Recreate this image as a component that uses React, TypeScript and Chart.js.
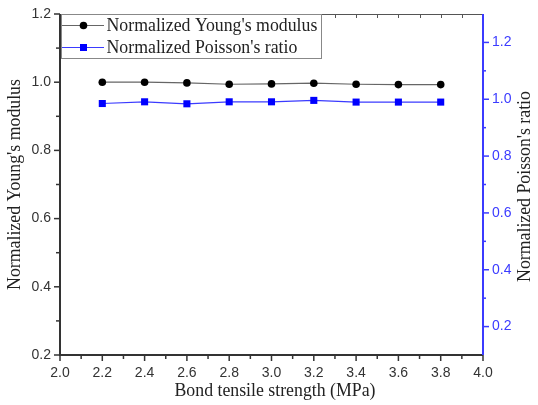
import React, { useEffect, useRef } from "react";
import { Chart, registerables } from "chart.js";
Chart.register(...registerables);

const bondStrength = [2.2, 2.4, 2.6, 2.8, 3.0, 3.2, 3.4, 3.6, 3.8];
const youngsModulus = [1.0, 1.0, 0.998, 0.994, 0.995, 0.997, 0.994, 0.993, 0.993];
const poissonsRatio = [0.985, 0.991, 0.984, 0.991, 0.991, 0.996, 0.99, 0.99, 0.99];
const xTickValues = [2.0, 2.2, 2.4, 2.6, 2.8, 3.0, 3.2, 3.4, 3.6, 3.8, 4.0];
const leftTickValues = [0.2, 0.4, 0.6, 0.8, 1.0, 1.2];
const rightTickValues = [0.2, 0.4, 0.6, 0.8, 1.0, 1.2];
const seriesNames = ["Normalized Young's modulus", "Normalized Poisson's ratio"];
const xTitle = "Bond tensile strength (MPa)";
const yTitle = "Normalized Young's modulus";
const y1Title = "Normalized Poisson's ratio";

const BLUE = "#3b3bff";
const BLACK_LINE = "#666666";
const AXIS = "#333333";
const SERIF = "'Liberation Serif', 'Times New Roman', serif";
const SANS = "'Liberation Sans', Arial, sans-serif";

const decorPlugin = {
  id: "decor",
  afterDraw(chart: any) {
    const ctx = chart.ctx;
    const { left, right, top, bottom } = chart.chartArea;
    const xs = chart.scales.x;
    const ys = chart.scales.y;
    const y1s = chart.scales.y1;
    ctx.save();
    ctx.strokeStyle = "#555555";
    ctx.lineWidth = 1;
    ctx.beginPath();
    ctx.moveTo(left, top + 0.5);
    ctx.lineTo(right, top + 0.5);
    ctx.stroke();
    for (let v = 2.1; v < 3.95; v += 0.1) {
      const px = Math.round(xs.getPixelForValue(v)) + 0.5;
      ctx.beginPath();
      ctx.moveTo(px, top);
      ctx.lineTo(px, top + 4);
      ctx.stroke();
    }
    ctx.strokeStyle = AXIS;
    ctx.lineWidth = 2;
    ctx.beginPath();
    ctx.moveTo(left, top);
    ctx.lineTo(left, bottom);
    ctx.lineTo(right, bottom);
    ctx.stroke();
    ctx.lineWidth = 1.5;
    for (let i = 0; i <= 20; i++) {
      const v = 2.0 + i * 0.1;
      const px = xs.getPixelForValue(v);
      const len = i % 2 === 0 ? 6 : 4;
      ctx.beginPath();
      ctx.moveTo(px, bottom);
      ctx.lineTo(px, bottom + len);
      ctx.stroke();
    }
    for (let i = 0; i <= 10; i++) {
      const v = 0.2 + i * 0.1;
      const py = ys.getPixelForValue(v);
      const len = i % 2 === 0 ? 6 : 4;
      ctx.beginPath();
      ctx.moveTo(left, py);
      ctx.lineTo(left - len, py);
      ctx.stroke();
    }
    ctx.strokeStyle = BLUE;
    ctx.lineWidth = 2;
    ctx.beginPath();
    ctx.moveTo(right, top);
    ctx.lineTo(right, bottom);
    ctx.stroke();
    ctx.lineWidth = 1.5;
    for (let i = 0; i <= 12; i++) {
      const v = 0.1 + i * 0.1;
      if (v < 0.15 || v > 1.25) continue;
      const py = y1s.getPixelForValue(v);
      const len = i % 2 === 1 ? 6 : 3;
      ctx.beginPath();
      ctx.moveTo(right, py);
      ctx.lineTo(right + len, py);
      ctx.stroke();
    }
    const lx0 = left + 1, lx1 = 321, ly0 = top, ly1 = 58;
    ctx.fillStyle = "#ffffff";
    ctx.fillRect(lx0, ly0, lx1 - lx0, ly1 - ly0);
    ctx.strokeStyle = "#888888";
    ctx.lineWidth = 1;
    ctx.strokeRect(lx0 + 0.5, ly0 + 0.5, lx1 - lx0, ly1 - ly0);
    const rows = [
      { y: 25.5, color: BLACK_LINE, fill: "#000000", style: "circle" },
      { y: 47.5, color: BLUE, fill: "#0000ff", style: "rect" },
    ];
    rows.forEach((r, i) => {
      ctx.strokeStyle = r.color;
      ctx.lineWidth = 1.2;
      ctx.beginPath();
      ctx.moveTo(lx0 + 1, r.y);
      ctx.lineTo(104, r.y);
      ctx.stroke();
      ctx.fillStyle = r.fill;
      if (r.style === "circle") {
        ctx.beginPath();
        ctx.arc(83.5, r.y, 3.8, 0, Math.PI * 2);
        ctx.fill();
      } else {
        ctx.fillRect(83.5 - 3.5, r.y - 3.5, 7, 7);
      }
      ctx.fillStyle = "#222222";
      ctx.font = `17.8px ${SERIF}`;
      ctx.textAlign = "left";
      ctx.textBaseline = "middle";
      ctx.fillText(seriesNames[i], 106.5, r.y + 1);
    });
    ctx.fillStyle = "#222222";
    ctx.font = `17.8px ${SERIF}`;
    ctx.textAlign = "center";
    ctx.textBaseline = "middle";
    ctx.fillText(xTitle, 275, 391);
    ctx.save();
    ctx.translate(15, (top + bottom) / 2);
    ctx.rotate(-Math.PI / 2);
    ctx.fillText(yTitle, 0, 0);
    ctx.restore();
    ctx.save();
    ctx.translate(525, (top + bottom) / 2 + 2);
    ctx.rotate(-Math.PI / 2);
    ctx.fillText(y1Title, 0, 0);
    ctx.restore();
    ctx.restore();
  },
};

const zeroPad = (s: any) => {
  s.paddingTop = 0;
  s.paddingBottom = 0;
  s.paddingLeft = 0;
  s.paddingRight = 0;
};

export default function App() {
  const ref = useRef<HTMLCanvasElement>(null);
  useEffect(() => {
    if (!ref.current) return;
    const chart = new Chart(ref.current, {
      type: "line",
      data: {
        datasets: [
          {
            label: seriesNames[0],
            data: bondStrength.map((x, i) => ({ x, y: youngsModulus[i] })),
            yAxisID: "y",
            borderColor: BLACK_LINE,
            borderWidth: 1.2,
            pointStyle: "circle",
            pointRadius: 3.8,
            pointBackgroundColor: "#000000",
            pointBorderColor: "#000000",
            pointBorderWidth: 0,
            tension: 0,
          },
          {
            label: seriesNames[1],
            data: bondStrength.map((x, i) => ({ x, y: poissonsRatio[i] })),
            yAxisID: "y1",
            borderColor: BLUE,
            borderWidth: 1.2,
            pointStyle: "rect",
            pointRadius: 5,
            pointBackgroundColor: "#0000ff",
            pointBorderColor: "#0000ff",
            pointBorderWidth: 0,
            tension: 0,
          },
        ],
      },
      options: {
        responsive: false,
        animation: false,
        devicePixelRatio: 1,
        layout: { padding: { top: 14, left: 0, right: 0, bottom: 0 } },
        plugins: { legend: { display: false }, tooltip: { enabled: false } },
        scales: {
          x: {
            type: "linear",
            position: "bottom",
            min: 2.0,
            max: 4.0,
            grid: { display: false, drawTicks: false },
            border: { display: false },
            ticks: {
              padding: 10,
              maxRotation: 0,
              autoSkip: false,
              color: "#333333",
              font: { family: SANS, size: 14 },
              callback: (v: any) => Number(v).toFixed(1),
            },
            afterBuildTicks: (s: any) => {
              s.ticks = xTickValues.map((v) => ({ value: v }));
            },
            afterFit: (s: any) => {
              s.height = 50;
              zeroPad(s);
            },
          },
          y: {
            type: "linear",
            position: "left",
            min: 0.2,
            max: 1.2,
            grid: { display: false, drawTicks: false },
            border: { display: false },
            ticks: {
              padding: 9,
              color: "#333333",
              font: { family: SANS, size: 14 },
              callback: (v: any) => Number(v).toFixed(1),
            },
            afterBuildTicks: (s: any) => {
              s.ticks = leftTickValues.map((v) => ({ value: v }));
            },
            afterFit: (s: any) => {
              s.width = 60;
              zeroPad(s);
            },
          },
          y1: {
            type: "linear",
            position: "right",
            min: 0.1,
            max: 1.3,
            grid: { display: false, drawTicks: false },
            border: { display: false },
            ticks: {
              padding: 9,
              color: BLUE,
              font: { family: SANS, size: 14 },
              callback: (v: any) => Number(v).toFixed(1),
            },
            afterBuildTicks: (s: any) => {
              s.ticks = rightTickValues.map((v) => ({ value: v }));
            },
            afterFit: (s: any) => {
              s.width = 55;
              zeroPad(s);
            },
          },
        },
      },
      plugins: [decorPlugin],
    });
    return () => chart.destroy();
  }, []);
  return (
    <div style={{ position: "absolute", left: 0, top: 0, width: 538, height: 405, background: "#fff" }}>
      <canvas ref={ref} width={538} height={405} style={{ width: 538, height: 405, display: "block" }} />
    </div>
  );
}
